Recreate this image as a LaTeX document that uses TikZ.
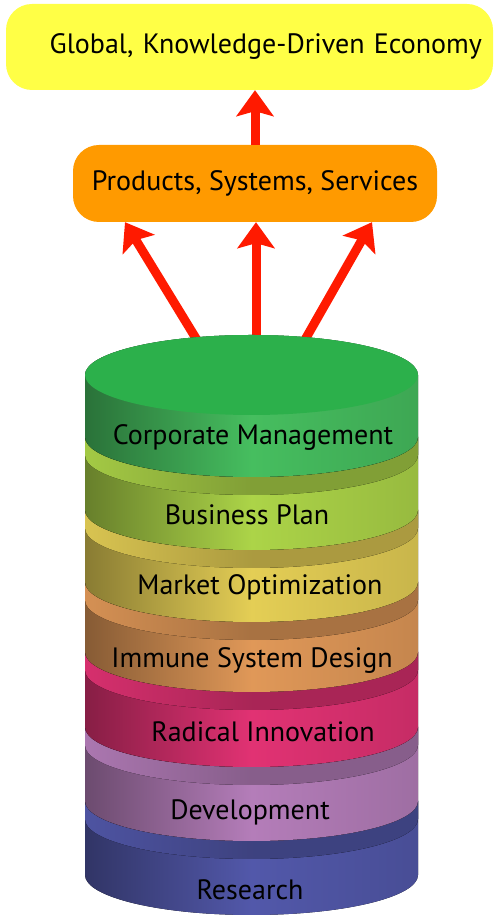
\documentclass[tikz,border=0pt]{standalone}
\usepackage{fontspec}
\setmainfont{PT Sans}
\usepackage{tikz}
\usetikzlibrary{arrows.meta,positioning}
\definecolor{econyellow}{RGB}{255,255,70}
\definecolor{prodorange}{RGB}{255,154,0}
\definecolor{arrowred}{RGB}{255,26,0}
\definecolor{topgreen}{RGB}{44,176,75}
\definecolor{corpgreen}{RGB}{70,190,95}
\definecolor{planlime}{RGB}{172,212,72}
\definecolor{marketmustard}{RGB}{228,206,85}
\definecolor{immunetan}{RGB}{224,152,88}
\definecolor{radicalrose}{RGB}{225,50,115}
\definecolor{devlilac}{RGB}{180,125,185}
\definecolor{resindigo}{RGB}{82,88,170}
\tikzstyle{box} = [rounded corners=26pt, inner sep=0pt, font=\fontsize{28}{32}\selectfont]
\tikzstyle{arrow} = [line width=9pt,-{Stealth[width=37pt,length=26pt,inset=5pt]},color=arrowred]
\tikzstyle{side} = [left color=#1!60!black, right color=#1!88!black, middle color=#1]
\tikzstyle{rim} = [left color=#1!95!black, right color=#1!75!black, middle color=#1!75!black]
\tikzstyle{txt} = [anchor=base, font=\fontsize{28}{32}\selectfont]

\begin{document}
\begin{tikzpicture}[x=1pt,y=1pt]
\useasboundingbox (0,0) rectangle (493,920);

% Boxes on top
\node[box, fill=econyellow, minimum width=487pt, minimum height=86pt, text width=465pt, align=right] (econ) at (249.5,873) {Global, Knowledge-Driven Economy};
\node[box, fill=prodorange, minimum width=364pt, minimum height=77pt] (prod) at (255,736.5) {Products, Systems, Services};

% Arrows
\coordinate (stacktop) at (256,575);
\draw[arrow] (prod.north) -- (prod.north |- econ.south);
\draw[arrow] ([xshift=-56pt]stacktop) -- ([xshift=-130pt]prod.south);
\draw[arrow] (stacktop) -- (stacktop |- prod.south);
\draw[arrow] ([xshift=46pt]stacktop) -- ([xshift=117pt]prod.south);

% Research
\fill[side=resindigo] (85,45) arc[start angle=180,end angle=360,x radius=166.5,y radius=40] -- (418,119) arc[start angle=0,end angle=180,x radius=166.5,y radius=40] -- cycle;
\fill[rim=resindigo] (85,119) arc[start angle=180,end angle=360,x radius=166.5,y radius=40] -- (418,101) arc[start angle=0,end angle=-180,x radius=166.5,y radius=40] -- cycle;
% Development
\fill[side=devlilac] (85,119) arc[start angle=180,end angle=360,x radius=166.5,y radius=40] -- (418,193) arc[start angle=0,end angle=180,x radius=166.5,y radius=40] -- cycle;
\fill[rim=devlilac] (85,193) arc[start angle=180,end angle=360,x radius=166.5,y radius=40] -- (418,175) arc[start angle=0,end angle=-180,x radius=166.5,y radius=40] -- cycle;
% Radical Innovation
\fill[side=radicalrose] (85,193) arc[start angle=180,end angle=360,x radius=166.5,y radius=40] -- (418,268) arc[start angle=0,end angle=180,x radius=166.5,y radius=40] -- cycle;
\fill[rim=radicalrose] (85,268) arc[start angle=180,end angle=360,x radius=166.5,y radius=40] -- (418,250) arc[start angle=0,end angle=-180,x radius=166.5,y radius=40] -- cycle;
% Immune System Design
\fill[side=immunetan] (85,268) arc[start angle=180,end angle=360,x radius=166.5,y radius=40] -- (418,338) arc[start angle=0,end angle=180,x radius=166.5,y radius=40] -- cycle;
\fill[rim=immunetan] (85,338) arc[start angle=180,end angle=360,x radius=166.5,y radius=40] -- (418,320) arc[start angle=0,end angle=-180,x radius=166.5,y radius=40] -- cycle;
% Market Optimization
\fill[side=marketmustard] (85,338) arc[start angle=180,end angle=360,x radius=166.5,y radius=40] -- (418,410) arc[start angle=0,end angle=180,x radius=166.5,y radius=40] -- cycle;
\fill[rim=marketmustard] (85,410) arc[start angle=180,end angle=360,x radius=166.5,y radius=40] -- (418,392) arc[start angle=0,end angle=-180,x radius=166.5,y radius=40] -- cycle;
% Business Plan
\fill[side=planlime] (85,410) arc[start angle=180,end angle=360,x radius=166.5,y radius=40] -- (418,483) arc[start angle=0,end angle=180,x radius=166.5,y radius=40] -- cycle;
\fill[rim=planlime] (85,483) arc[start angle=180,end angle=360,x radius=166.5,y radius=40] -- (418,465) arc[start angle=0,end angle=-180,x radius=166.5,y radius=40] -- cycle;
% Corporate Management
\fill[side=corpgreen] (85,483) arc[start angle=180,end angle=360,x radius=166.5,y radius=40] -- (418,545) arc[start angle=0,end angle=180,x radius=166.5,y radius=40] -- cycle;
\fill[topgreen] (251.5,545) ellipse[x radius=166.5,y radius=40];

% Layer labels
\node[txt] (corp) at (253,475) {Corporate Management};
\node[txt] (plan) at (247,395) {Business Plan};
\node[txt] (market) at (260,325) {Market Optimization};
\node[txt] (immune) at (252,252) {Immune System Design};
\node[txt] (radical) at (263,178) {Radical Innovation};
\node[txt] (dev) at (250,100) {Development};
\node[txt] (res) at (250,20) {Research};
\end{tikzpicture}
\end{document}
